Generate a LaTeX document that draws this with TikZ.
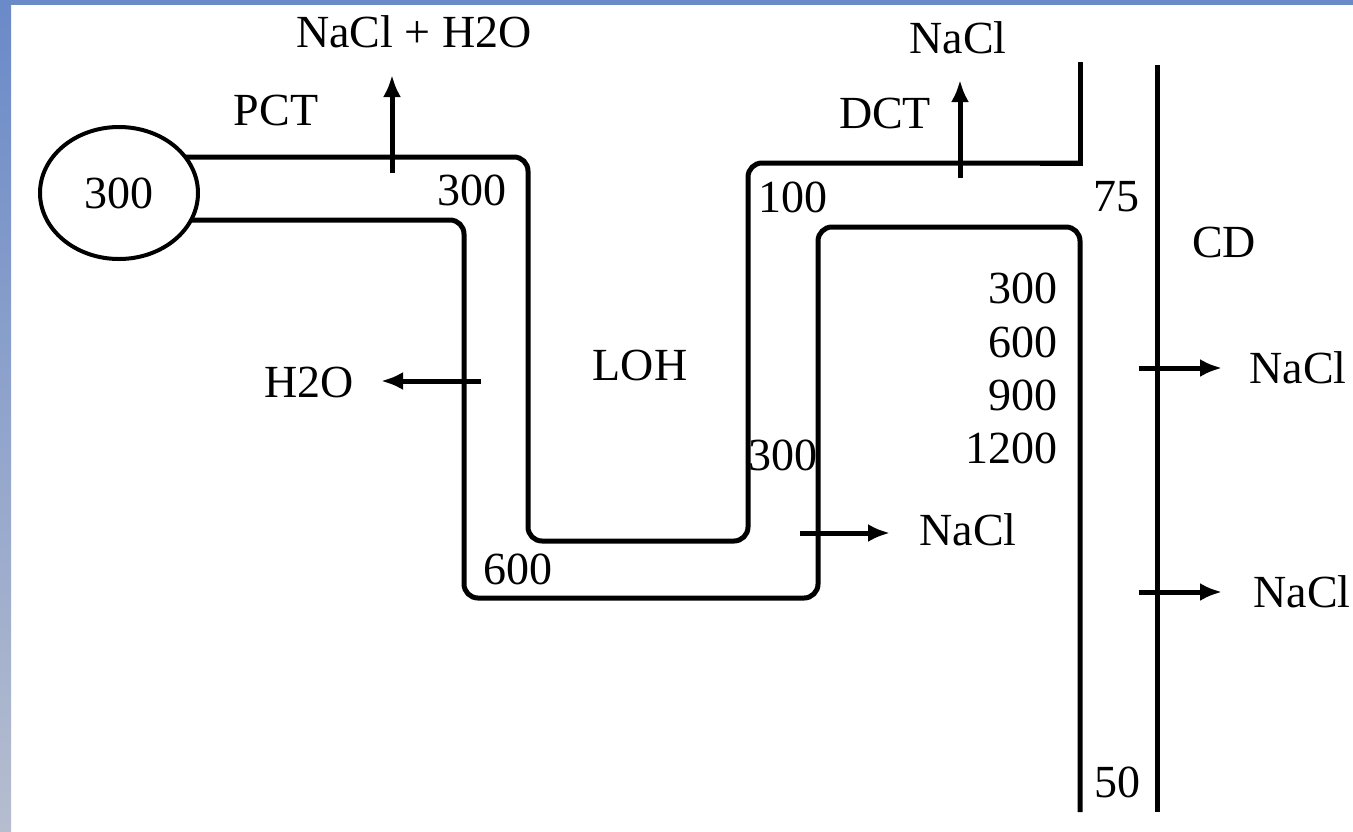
\documentclass[tikz,border=0pt]{standalone}
\usepackage{fontspec}
\setmainfont{Liberation Serif}
\usetikzlibrary{arrows.meta,positioning,shapes.geometric}
\definecolor{slideblue}{RGB}{106,138,200}
\definecolor{slidegray}{RGB}{182,189,207}

\begin{document}
\begin{tikzpicture}[
  x=0.5pt, y=-0.5pt,
  every node/.style={font=\fontsize{23}{26}\selectfont, inner sep=0pt},
  wall/.style={line width=2.5pt, rounded corners=7pt},
  flow/.style={-{Latex[length=11pt, width=9pt]}, line width=2.5pt},
  value/.style={anchor=east}
]

% Frame of the slide
\useasboundingbox (0,0) rectangle (1353,831);
\fill[white] (0,0) rectangle (1353,831);
\shade[top color=slideblue, bottom color=slidegray] (0,0) rectangle (11,831);
\fill[slideblue] (0,0) rectangle (1353,5);

% Glomerulus
\node[ellipse, draw, line width=2pt, minimum width=79pt, minimum height=66pt] (glom) at (119,193) {300};

% Tubule walls
\draw[wall] (185,157) -- (528,157) -- (528,541) -- (748,541) -- (748,163) -- (1080,163);
\draw[line width=2.5pt] (1040,163) -- (1080,163) -- (1080,62);
\draw[wall] (191,220) -- (464,220) -- (464,598) -- (818,598) -- (818,227) -- (1080,227) -- (1080,812);
\draw[line width=2.5pt] (1157,65) -- (1157,812);

% Segment labels
\node (pct) at (276,110) {PCT};
\node (dct) at (885,113) {DCT};
\node (loh) at (640,365) {LOH};
\node (cd) at (1224,242) {CD};

% Osmolarity values
\node (pctval) at (472,190) {300};
\node (dctval) at (793,197) {100};
\node (cdtop) at (1116,197) {75};
\node (ascval) at (783,455) {300};
\node (bendval) at (518,569) {600};
\node (cdend) at (1117,782) {50};
\node[value] (med300) at (1058,288) {300};
\node[value] (med600) at (1058,342) {600};
\node[value] (med900) at (1058,395) {900};
\node[value] (med1200) at (1058,448) {1200};

% Reabsorbed substances
\node (pctout) at (414,32) {NaCl + H2O};
\node (dctout) at (958,38) {NaCl};
\node (water) at (309,382) {H2O};
\node (lohout) at (968,530) {NaCl};
\node (cdout1) at (1298,368) {NaCl};
\node (cdout2) at (1302,592) {NaCl};

% Arrows
\coordinate (pctfoot) at (392,173);
\coordinate (pcttip) at (392,75);
\coordinate (dctfoot) at (960,178);
\coordinate (dcttip) at (960,80);
\coordinate (waterfoot) at (481,381);
\coordinate (watertip) at (381,381);
\coordinate (lohfoot) at (800,533);
\coordinate (lohtip) at (890,533);
\coordinate (cdfoot1) at (1139,368);
\coordinate (cdtip1) at (1222,368);
\coordinate (cdfoot2) at (1139,592);
\coordinate (cdtip2) at (1222,592);
\draw[flow] (pctfoot) -- (pcttip);
\draw[flow] (dctfoot) -- (dcttip);
\draw[flow] (waterfoot) -- (watertip);
\draw[flow] (lohfoot) -- (lohtip);
\draw[flow] (cdfoot1) -- (cdtip1);
\draw[flow] (cdfoot2) -- (cdtip2);

\end{tikzpicture}
\end{document}
